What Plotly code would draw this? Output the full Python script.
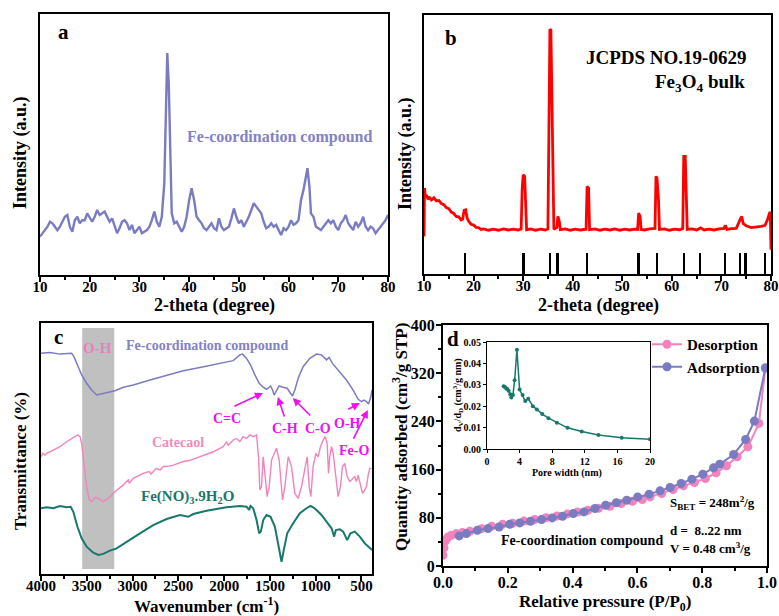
import plotly.graph_objects as go

FONT = "Liberation Serif"
W, H = 779, 616

# ---------------- (a) XRD of the Fe-coordination compound ----------------
xrd_a_two_theta = [10, 10.5, 11, 11.5, 12, 12.5, 13, 13.5, 14, 14.5, 15, 15.5, 16, 16.5, 17, 17.5, 18, 18.5,
                   19, 19.5, 20, 20.5, 21, 21.5, 22, 22.5, 23, 23.5, 24, 24.5, 25, 25.5, 26, 26.5, 27, 27.5,
                   28, 28.5, 29, 29.5, 30, 30.5, 31, 31.5, 32, 32.5, 33, 33.5, 34, 34.5, 35, 35.3, 35.6, 35.9,
                   36.2, 36.5, 37, 37.5, 38, 38.5, 39, 39.5, 40, 40.5, 41, 41.5, 42, 42.5, 43, 43.5, 44, 44.5,
                   45, 45.5, 46, 46.5, 47, 47.5, 48, 48.5, 49, 49.5, 50, 50.5, 51, 51.5, 52, 52.5, 53, 53.5,
                   54, 54.5, 55, 55.5, 56, 56.5, 57, 57.5, 58, 58.5, 59, 59.5, 60, 60.5, 61, 61.5, 62, 62.5,
                   63, 63.5, 63.8, 64.2, 64.5, 65, 65.5, 66, 66.5, 67, 67.5, 68, 68.5, 69, 69.5, 70, 70.5, 71,
                   71.5, 72, 72.5, 73, 73.5, 74, 74.5, 75, 75.5, 76, 76.5, 77, 77.5, 78, 78.5, 79, 79.5, 80]
xrd_a_intensity = [14.7, 16, 17.2, 18.5, 20.4, 19.8, 18.5, 17.2, 18.5, 20.4, 22.3, 23, 18.5, 16.6, 21, 22.3, 19.8, 21,
                   21, 23.6, 21.7, 20.4, 22.3, 24.9, 23, 23.6, 24.3, 22.3, 20.4, 21.7, 18.5, 16, 17.9, 20.4, 21, 19.8,
                   17.2, 19.2, 16, 17.2, 18.5, 16, 16.6, 17.2, 18.5, 21, 24.3, 20.4, 18.5, 22.3, 35.1, 67, 85, 73.4,
                   41.5, 23.6, 19.8, 20.4, 18.5, 16.6, 18.5, 22.3, 28.7, 33.2, 28.7, 22.3, 21, 19.8, 17.9, 17.2, 18.5, 19.8,
                   17.9, 17.2, 21.7, 18.5, 17.2, 17.9, 18.5, 21.7, 25.5, 22.3, 19.8, 21, 18.5, 20.4, 22.3, 24.9, 27.5, 26.2,
                   24.9, 23.6, 20.4, 17.9, 18.5, 19.8, 18.5, 19.2, 17.2, 15.3, 17.9, 17.2, 18.5, 21, 19.2, 19.8, 21, 28.7,
                   32.6, 39, 40.9, 33.8, 23.6, 22.3, 18.5, 17.9, 17.2, 18.5, 19.8, 21, 19.8, 21, 18.5, 17.2, 19.8, 21,
                   23, 19.8, 18.5, 17.2, 20.4, 18.5, 19.8, 22.3, 18.5, 17.2, 18.5, 17.9, 16, 17.2, 18.5, 19.8, 21, 23]

# ---------------- (b) XRD of bulk Fe3O4 ----------------
xrd_b_two_theta = [10.0, 10.1, 10.3, 10.5, 10.8, 11, 11.5, 12, 12.5, 13, 13.5, 14, 14.5, 15, 15.5, 16, 16.5, 17,
                   17.5, 17.8, 18.1, 18.4, 18.7, 19, 19.5, 20, 20.5, 21, 21.5, 22, 23, 24, 25, 26, 27, 28, 29,
                   29.6, 29.8, 30.0, 30.3, 30.5, 30.7, 31.5, 32.5, 33.5, 34.5, 35.0, 35.2, 35.4, 35.6, 35.8, 36.0,
                   36.2, 36.8, 37.0, 37.3, 37.5, 38.5, 39.5, 40.5, 41.5, 42.7, 42.9, 43.2, 43.4, 44.5, 45.5, 46.5,
                   47.5, 48.5, 49.5, 50.5, 51.5, 52.5, 53.1, 53.3, 53.6, 53.8, 54.5, 55.5, 56.6, 56.8, 57.0, 57.3,
                   57.5, 58.5, 59.5, 60.5, 61.5, 62.2, 62.4, 62.7, 62.9, 63.1, 64, 65, 65.8, 66.5, 67.5, 68.5, 69.5,
                   70.5, 70.8, 71.1, 72, 73, 73.8, 74.1, 74.4, 75, 76, 77, 78, 78.8, 79.3, 79.7, 79.85, 80.0]
xrd_b_intensity = [14.5, 33.2, 29.5, 30.5, 28.8, 29.8, 28.6, 29.4, 28.2, 28.4, 27.2, 26.8, 25.6, 25.2, 23.9, 23.4, 22.2, 22.1,
                   20.9, 21.2, 24.6, 24.8, 21.6, 20.4, 19.2, 18.9, 18.0, 17.9, 17.2, 17.4, 16.9, 17.3, 16.9, 17.4, 17.0, 17.3, 17.0,
                   17.4, 32.5, 38.3, 37.7, 23.5, 17.1, 17.4, 16.9, 17.3, 17.0, 17.4, 54.4, 94.5, 94.2, 60.8, 33.8,
                   17.3, 18.0, 22.2, 20.3, 17.1, 17.4, 16.9, 17.3, 17.0, 17.3, 33.8, 33.2, 17.1, 17.4, 16.9, 17.3,
                   17.0, 17.4, 16.9, 17.3, 17.0, 17.3, 17.2, 23.5, 22.2, 17.2, 17.0, 17.4, 17.6, 37.7, 37.0, 28.7,
                   17.2, 17.4, 16.9, 17.3, 17.1, 17.6, 45.4, 45.4, 26.1, 17.2, 17.4, 17.0, 17.8, 17.0, 17.3, 17.0, 17.4,
                   17.6, 18.8, 17.2, 17.5, 17.6, 21.2, 22.2, 19.4, 18.6, 17.9, 18.1, 18.4, 18.8, 21.0, 23.5, 24.0, 9.4]
jcpds_two_theta = [18.3, 30.1, 35.4, 37.0, 43.0, 53.3, 57.0, 62.5, 65.7, 70.8, 73.8, 74.9, 78.8]
jcpds_height = [8, 8, 8, 8, 8, 8, 8, 8, 8, 8, 8, 8, 8]

# ---------------- (c) FTIR spectra ----------------
ir_fe_wn = [4000, 3902, 3793, 3665, 3640, 3603, 3556, 3502, 3447, 3392, 3338, 3283, 3192, 3101, 2992, 2810, 2628,
            2446, 2265, 2083, 1901, 1828, 1799, 1755, 1712, 1664, 1617, 1573, 1537, 1508, 1493, 1471, 1453, 1435,
            1399, 1355, 1311, 1275, 1253, 1228, 1191, 1137, 1064, 991, 937, 882, 853, 817, 736, 664, 591, 536, 500,
            475, 445, 424, 402, 384]
ir_fe_t = [87.9, 88.2, 87.6, 87.9, 86.6, 83.3, 79.3, 76.0, 73.3, 71.3, 71.7, 72.2, 73.0, 74.4, 75.3, 77.3, 79.3,
           81.0, 82.3, 83.7, 85.0, 87.3, 87.6, 85.9, 83.3, 79.3, 76.0, 74.4, 73.6, 74.4, 74.9, 73.3, 71.3, 72.6,
           74.9, 74.4, 74.0, 72.0, 70.9, 73.3, 78.0, 82.6, 85.9, 87.6, 87.3, 85.3, 86.3, 83.9, 80.6, 77.3, 73.3, 69.6, 68.7,
           69.3, 68.7, 67.7, 70.0, 73.3]

ir_cat_wn = [4000, 3982, 3956, 3931, 3902, 3847, 3793, 3720, 3647, 3600, 3574, 3556, 3531, 3502, 3472, 3447, 3411,
             3374, 3320, 3265, 3192, 3101, 3047, 3036, 2992, 2883, 2820, 2800, 2738, 2700, 2665, 2628, 2556, 2446,
             2380, 2265, 2119, 2010, 1973, 1955,
             1937, 1901, 1864, 1828, 1792, 1755, 1719, 1682, 1646, 1624, 1610, 1592, 1573, 1551, 1530, 1508, 1482,
             1428, 1399, 1362, 1337, 1300, 1264, 1228, 1191, 1155, 1119, 1093, 1071, 1053, 1028, 998, 973, 948, 918,
             897, 875, 860, 846, 827, 809, 780, 755, 729, 707, 682, 656, 627, 598, 573, 555, 536, 511, 489, 464,
             445, 427, 409, 391]
ir_cat_t = [46.7, 48.1, 47.4, 48.3, 48.7, 49.7, 50.7, 52.7, 54.4, 55.4, 54.7, 52.1, 44.1, 34.8, 29.5, 28.8, 30.5,
            30.1, 28.8, 30.1, 32.8, 35.5, 37.5, 36.1, 38.1, 40.1, 40.8, 39.8, 42.1, 41.4, 42.8, 42.8, 43.4, 44.8,
            45.2, 46.7, 48.7, 50.7, 52.7, 51.3,
            52.1, 53.4, 54.0, 52.7, 54.7, 54.0, 55.4, 54.7, 55.4, 46.7, 33.5, 34.8, 46.7, 37.5, 30.8, 34.8, 45.4,
            50.1, 45.4, 29.5, 34.8, 46.7, 42.8, 32.1, 30.1, 34.8, 41.4, 46.7, 34.8, 30.8, 42.8, 48.1, 46.7, 50.7, 53.4,
            54.7, 52.1, 40.1, 46.7, 50.7, 48.1, 37.5, 30.8, 34.8, 42.8, 44.1, 38.8, 36.8, 38.1, 38.8, 36.8, 39.4, 35.5, 32.1, 33.5,
            34.8, 39.4, 42.1, 42.1]

ir_nit_wn = [4000, 3938, 3865, 3793, 3720, 3676, 3647, 3603, 3556, 3502, 3429, 3374, 3320, 3247, 3174, 3065, 2919,
             2774, 2628, 2483, 2392, 2337, 2192, 1973, 1828, 1755, 1726, 1712, 1682, 1646, 1617, 1599, 1573, 1537,
             1493, 1446, 1410, 1373, 1348, 1311, 1246, 1173, 1100, 1057, 1028, 991, 937, 864, 827, 798, 780, 736,
             700, 656, 620, 573, 518, 464, 420, 384]
ir_nit_t = [26.2, 26.6, 26.2, 27.1, 26.6, 26.8, 24.8, 18.9, 14.2, 10.9, 8.5, 7.6, 8.0, 9.3, 10.2, 12.9, 16.2,
            19.5, 21.9, 23.5, 22.8, 23.9, 25.2, 26.6, 27.1, 26.8, 25.5, 27.1, 26.2, 21.5, 16.2, 16.9, 21.5, 23.5,
            22.8, 18.9, 12.2, 4.9, 9.6, 16.2, 20.2, 24.2, 26.2, 27.1, 26.6, 25.5, 23.5, 20.2, 18.2, 14.9, 17.5, 17.8,
            16.9, 13.5, 16.2, 16.9, 14.9, 12.2, 10.6, 9.6]

oh_band = [3550, 3200]

# ---------------- (d) N2 isotherm and pore size distribution ----------------
des_p = [0.0, 0.003, 0.005, 0.01, 0.015, 0.026, 0.041, 0.06, 0.083, 0.119, 0.15, 0.184, 0.215, 0.25, 0.283,
         0.318, 0.352, 0.384, 0.415, 0.447, 0.48, 0.515, 0.55, 0.585, 0.615, 0.639, 0.675, 0.71, 0.742, 0.776,
         0.81, 0.843, 0.875, 0.908, 0.941, 0.975, 0.995]
des_q = [17.8, 30, 40, 44, 48, 51, 53.8, 55.5, 57.7, 62, 66, 69.3, 71, 74.5, 77, 80, 83, 86.5, 89.5, 92.5, 95.7,
         99.2, 103.6, 107.5, 110.2, 114.7, 120.3, 127, 133, 138.6, 145.3, 154.6, 166.2, 181.2, 197.8, 236.7, 328]
ads_p = [0.05, 0.072, 0.106, 0.139, 0.173, 0.206, 0.237, 0.27, 0.304, 0.337, 0.369, 0.402, 0.435, 0.469, 0.502,
         0.535, 0.567, 0.601, 0.636, 0.67, 0.701, 0.735, 0.768, 0.802, 0.835, 0.854, 0.897, 0.934, 0.961, 0.995]
ads_q = [49.9, 53.8, 59.3, 62.1, 64.8, 69.3, 71.5, 74.3, 77, 79.8, 82.6, 87, 89.8, 95.4, 100.9, 105, 109.2, 114.7,
         119.2, 124.7, 130.3, 137, 144.1, 152.4, 162.9, 169, 185.1, 210, 240.5, 329]
pore_width = [2.04, 2.2, 2.37, 2.5, 2.65, 2.86, 2.98, 3.18, 3.39, 3.67, 4.0, 4.37, 4.69, 5.06, 5.63, 6.12, 6.78,
              7.55, 8.57, 9.88, 11.63, 13.67, 16.53, 20.0]
pore_dvdd = [0.0293, 0.0290, 0.0283, 0.0280, 0.0272, 0.0256, 0.0241, 0.0252, 0.0321, 0.0464, 0.0278, 0.0252,
             0.0224, 0.0235, 0.0200, 0.0185, 0.0163, 0.0144, 0.0123, 0.0099, 0.0082, 0.0065, 0.0053, 0.0045]

# ---------------- colours ----------------
PURPLE = "#7b7bc2"
PINK = "#f283bd"
TEAL = "#17786b"
RED = "#ff0000"
MAGENTA = "#ee11ee"


def px(x):
    return x / W


def py(y):
    return 1 - y / H


fig = go.Figure()

fig.add_trace(go.Scatter(x=xrd_a_two_theta, y=xrd_a_intensity, mode="lines",
                         line=dict(color=PURPLE, width=2.4), xaxis="x", yaxis="y", showlegend=False))

fig.add_trace(go.Scatter(x=xrd_b_two_theta, y=xrd_b_intensity, mode="lines",
                         line=dict(color=RED, width=2.8), xaxis="x2", yaxis="y2", showlegend=False))
fig.add_trace(go.Bar(x=jcpds_two_theta, y=jcpds_height, width=0.35, marker=dict(color="black", line=dict(width=0)),
                     xaxis="x2", yaxis="y2", showlegend=False))

fig.add_trace(go.Scatter(x=ir_fe_wn, y=ir_fe_t, mode="lines", line=dict(color=PURPLE, width=1.5),
                         xaxis="x3", yaxis="y3", showlegend=False))
fig.add_trace(go.Scatter(x=ir_cat_wn, y=ir_cat_t, mode="lines", line=dict(color=PINK, width=1.4),
                         xaxis="x3", yaxis="y3", showlegend=False))
fig.add_trace(go.Scatter(x=ir_nit_wn, y=ir_nit_t, mode="lines", line=dict(color=TEAL, width=2),
                         xaxis="x3", yaxis="y3", showlegend=False))

fig.add_trace(go.Scatter(x=des_p, y=des_q, mode="lines+markers", name="<b>Desorption</b>",
                         line=dict(color=PINK, width=2), marker=dict(color=PINK, size=9),
                         xaxis="x4", yaxis="y4"))
fig.add_trace(go.Scatter(x=ads_p, y=ads_q, mode="lines+markers", name="<b>Adsorption</b>",
                         line=dict(color=PURPLE, width=2), marker=dict(color=PURPLE, size=9),
                         xaxis="x4", yaxis="y4"))
fig.add_trace(go.Scatter(x=pore_width, y=pore_dvdd, mode="lines+markers",
                         line=dict(color=TEAL, width=1.5), marker=dict(color=TEAL, size=4),
                         xaxis="x5", yaxis="y5", showlegend=False))

tickfont = dict(family=FONT, size=15, color="black", weight="bold")


def frame(domain, anchor, **kw):
    d = dict(domain=domain, anchor=anchor, showline=True, linewidth=2, linecolor="black", mirror=True,
             showgrid=False, zeroline=False, ticks="outside", ticklen=5, tickwidth=2, tickcolor="black",
             tickfont=tickfont, ticklabelstandoff=-8, automargin=False)
    d.update(kw)
    return d


def minor(step, length=3):
    return dict(dtick=step, ticks="outside", ticklen=length, tickwidth=2, tickcolor="black", showgrid=False)


bare_y = dict(ticks="", showticklabels=False)
small = dict(family=FONT, size=10, color="black", weight="bold")
mid = dict(family=FONT, size=16, color="black", weight="bold")

fig.update_layout(
    width=W, height=H, margin=dict(l=0, r=0, t=0, b=0, autoexpand=False),
    paper_bgcolor="white", plot_bgcolor="white",
    font=dict(family=FONT, color="black"),
    bargap=0,
    xaxis=frame([px(40), px(388)], "y", range=[10, 80], dtick=10, minor=minor(5)),
    yaxis=frame([py(275), py(14)], "x", range=[0, 100], **bare_y),
    xaxis2=frame([px(424), px(771)], "y2", range=[10, 80], dtick=10, minor=minor(5)),
    yaxis2=frame([py(274), py(15)], "x2", range=[0, 100], **bare_y),
    xaxis3=frame([px(41), px(372)], "y3", range=[4000, 385], dtick=500, tick0=500, minor=minor(250)),
    yaxis3=frame([py(574), py(323)], "x3", range=[0, 100], **bare_y),
    xaxis4=frame([px(443), px(767)], "y4", range=[0, 1], dtick=0.2, tickformat=".1f", minor=minor(0.1),
                 tickfont=mid, ticklabelstandoff=-4),
    yaxis4=frame([py(566), py(325)], "x4", range=[0, 400], dtick=80, minor=minor(40), tickfont=mid,
                 ticklabelstandoff=-2),
    xaxis5=frame([px(487), px(650)], "y5", range=[0, 20], dtick=4, linewidth=1, tickwidth=1, ticklen=3,
                 tickfont=small, ticklabelstandoff=0),
    yaxis5=frame([py(449), py(342)], "x5", range=[0, 0.05], dtick=0.01, tickformat=".2f", linewidth=1,
                 tickwidth=1, ticklen=3, tickfont=small, ticklabelstandoff=0),
    legend=dict(x=px(647), y=py(328), xanchor="left", yanchor="top", bgcolor="rgba(0,0,0,0)",
                font=dict(family=FONT, size=15, color="black"), itemwidth=30, tracegroupgap=0),
)

fig.add_shape(type="rect", xref="x3", yref="y3", x0=oh_band[0], x1=oh_band[1], y0=2, y1=98,
              fillcolor="#c0c0c0", line=dict(width=0), layer="below")


def label(x, y, text, size, color="black", xanchor="center", angle=0):
    fig.add_annotation(xref="paper", yref="paper", x=px(x), y=py(y), text=text, showarrow=False,
                       xanchor=xanchor, yanchor="middle", textangle=angle,
                       font=dict(family=FONT, size=size, color=color))


# panel letters
label(64, 32, "<b>a</b>", 21)
label(451, 38, "<b>b</b>", 21)
label(58, 337, "<b>c</b>", 21)
label(453, 339, "<b>d</b>", 21)

# axis titles
label(214, 305, "<b>2-theta (degree)</b>", 18)
label(598, 305, "<b>2-theta (degree)</b>", 18)
label(207, 604.5, "<b>Wavenumber (cm<sup>-1</sup>)</b>", 17)
label(605, 603, "<b>Relative pressure (P/P<sub>0</sub>)</b>", 17)
label(20, 153, "<b>Intensity (a.u.)</b>", 18, angle=-90)
label(405, 154, "<b>Intensity (a.u.)</b>", 18, angle=-90)
label(20, 461, "<b>Transmittance (%)</b>", 17, angle=-90)
label(400, 437, "<b>Quantity adsorbed (cm<sup>3</sup>/g STP)</b>", 17, angle=-90)
label(567, 473, "<b>Pore width (nm)</b>", 10)
label(458, 395, "<b>d<sub>V</sub>/d<sub>D</sub> (cm<sup>3</sup>/g nm)</b>", 10, angle=-90)

# panel (a) / (b) captions
label(279, 137, "<b>Fe-coordination compound</b>", 16, color="#8282c6")
label(748, 58, "<b>JCPDS NO.19-0629</b>", 19, xanchor="right")
label(747, 83, "<b>Fe<sub>3</sub>O<sub>4</sub> bulk</b>", 19, xanchor="right")

# panel (c) captions
label(97, 348, "<b>O-H</b>", 15, color="#f07cc0")
label(207, 345, "<b>Fe-coordination compound</b>", 14, color="#8282c6")
label(178, 443, "<b>Catecaol</b>", 14, color="#f08cbc")
label(187, 497, "<b>Fe(NO)<sub>3</sub>.9H<sub>2</sub>O</b>", 15, color=TEAL)
label(227, 418, "<b>C=C</b>", 14, color=MAGENTA)
label(285, 428, "<b>C-H</b>", 14, color=MAGENTA)
label(318, 428, "<b>C-O</b>", 14, color=MAGENTA)
label(347, 423, "<b>O-H</b>", 14, color=MAGENTA)
label(354, 450, "<b>Fe-O</b>", 14, color=MAGENTA)

# band-assignment arrows (head in data space, tail offset in pixels)
for head_wn, head_t, dx, dy in [(1577, 72.1, -30, 14), (1413, 70.5, 7, 21), (1250, 70.1, 19, 19),
                                (518, 68.1, -13, 7), (431, 65.3, -15, 30)]:
    fig.add_annotation(xref="x3", yref="y3", x=head_wn, y=head_t, ax=dx, ay=dy, text="", showarrow=True,
                       arrowhead=2, arrowsize=1, arrowwidth=1.6, arrowcolor=MAGENTA)

# panel (d) captions
label(668, 503, "<b>S<sub>BET</sub> = 248m<sup>2</sup>/g</b>", 13, xanchor="left")
label(668, 530, "<b>d =  8..22 nm</b>", 13, xanchor="left")
label(668, 548, "<b>V = 0.48 cm<sup>3</sup>/g</b>", 13, xanchor="left")
label(582, 540, "<b>Fe-coordination compound</b>", 14)

fig.write_html("out.html")
